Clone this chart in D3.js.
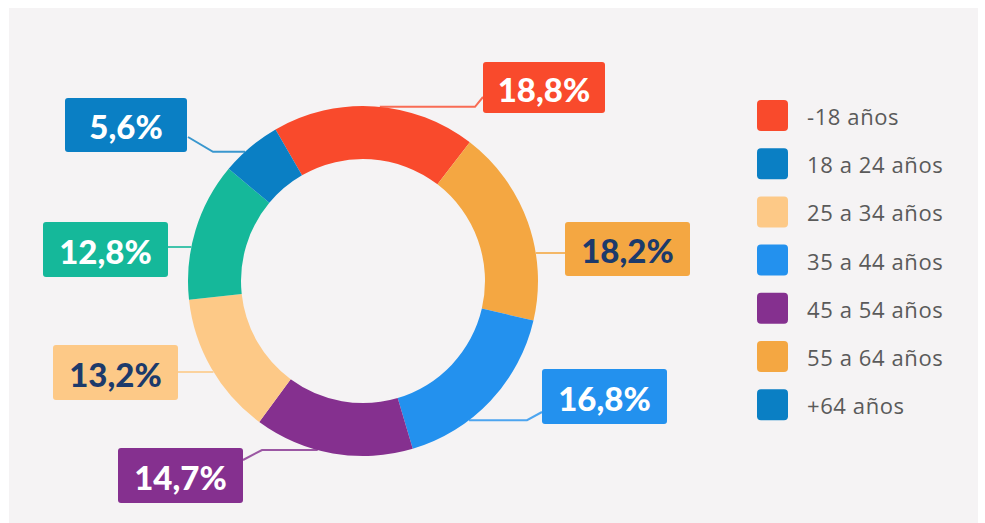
<!DOCTYPE html>
<html><head><meta charset="utf-8">
<script src="https://cdn.jsdelivr.net/npm/d3@7"></script>
<style>html,body{margin:0;padding:0;background:#fff;}svg{display:block;}</style>
</head><body>
<svg id="chart" width="985" height="523"></svg>
<script>
// ---- data ----
const segmentLabels = ["-18 años","55 a 64 años","35 a 44 años","45 a 54 años","25 a 34 años","18 a 24 años","+64 años"];
const segmentValues = [18.8, 18.2, 16.8, 14.7, 13.2, 12.8, 5.6];
const segmentTexts  = ["18,8%","18,2%","16,8%","14,7%","13,2%","12,8%","5,6%"];
const segmentColors = ["#f94a2c","#f4a742","#2391ee","#85308f","#fdc987","#15b89a","#0a7fc4"];
const labelTextColors = ["#ffffff","#1c3a6b","#ffffff","#ffffff","#1c3a6b","#ffffff","#ffffff"];
const legendLabels = ["-18 años","18 a 24 años","25 a 34 años","35 a 44 años","45 a 54 años","55 a 64 años","+64 años"];
const legendColors = ["#f94a2c","#0a7fc4","#fdc987","#2391ee","#85308f","#f4a742","#0a7fc4"];

// ---- layout ----
const cx = 363, cy = 281, R = 175, r = 122;
const startDeg = -30;
// label boxes and leader geometry (angle on ring in degrees, elbow x, end point)
const boxes = [
  {x:483,y:62,w:122,h:51, a:5.5,  ex:475, end:[483,97]},
  {x:565,y:222,w:125,h:54, a:80.8, ex:null, end:[565,null]},
  {x:542,y:369,w:125,h:55, a:142.7,ex:527, end:[542,412]},
  {x:118,y:448,w:125,h:55, a:195,  ex:262, end:[243,460]},
  {x:53,y:345,w:125,h:55,  a:238.7,ex:null, end:[178,null]},
  {x:43,y:222,w:125,h:55,  a:281.2,ex:null, end:[168,null]},
  {x:65,y:98,w:122,h:54,   a:317.6,ex:213, end:[188,137]}
];

const svg = d3.select("#chart");
// background panel
svg.append("rect").attr("x",9).attr("y",8).attr("width",969).attr("height",515).attr("fill","#f5f3f4");

const pie = d3.pie().sort(null).value(d=>d)
  .startAngle(startDeg*Math.PI/180).endAngle(startDeg*Math.PI/180+2*Math.PI);
const arc = d3.arc().innerRadius(r).outerRadius(R);
const g = svg.append("g").attr("transform",`translate(${cx},${cy})`);
g.selectAll("path").data(pie(segmentValues)).join("path")
  .attr("d",arc).attr("fill",(d,i)=>segmentColors[i]);

// leader lines
const line = d3.line();
boxes.forEach((b,i)=>{
  const a = b.a*Math.PI/180;
  const px = cx + R*Math.sin(a), py = cy - R*Math.cos(a);
  const pts = [[px,py]];
  if (b.ex!==null){ pts.push([b.ex,py]); pts.push(b.end); }
  else pts.push([b.end[0],py]);
  svg.append("path").attr("d",line(pts)).attr("fill","none")
    .attr("stroke",segmentColors[i]).attr("stroke-width",2).attr("opacity",0.8);
});

// label boxes
boxes.forEach((b,i)=>{
  svg.append("rect").attr("x",b.x).attr("y",b.y).attr("width",b.w).attr("height",b.h)
    .attr("rx",3).attr("fill",segmentColors[i]);
  svg.append("text").attr("x",b.x+b.w/2).attr("y",b.y+b.h/2+1)
    .attr("text-anchor","middle").attr("dominant-baseline","central")
    .attr("font-family","Lato, 'Open Sans', sans-serif").attr("font-weight",900)
    .attr("font-size",33).attr("fill",labelTextColors[i]).text(segmentTexts[i]);
});

// legend
const lg = svg.append("g");
legendLabels.forEach((t,i)=>{
  const y = 115 + i*48.2;
  lg.append("rect").attr("x",757).attr("y",y-15).attr("width",31).attr("height",31)
    .attr("rx",4).attr("fill",legendColors[i]);
  lg.append("text").attr("x",807).attr("y",y+1).attr("dominant-baseline","central")
    .attr("font-family","'Open Sans', Lato, sans-serif").attr("font-size",22)
    .attr("letter-spacing",0.6).attr("fill","#5a5a5a").text(t);
});
</script>
</body></html>
